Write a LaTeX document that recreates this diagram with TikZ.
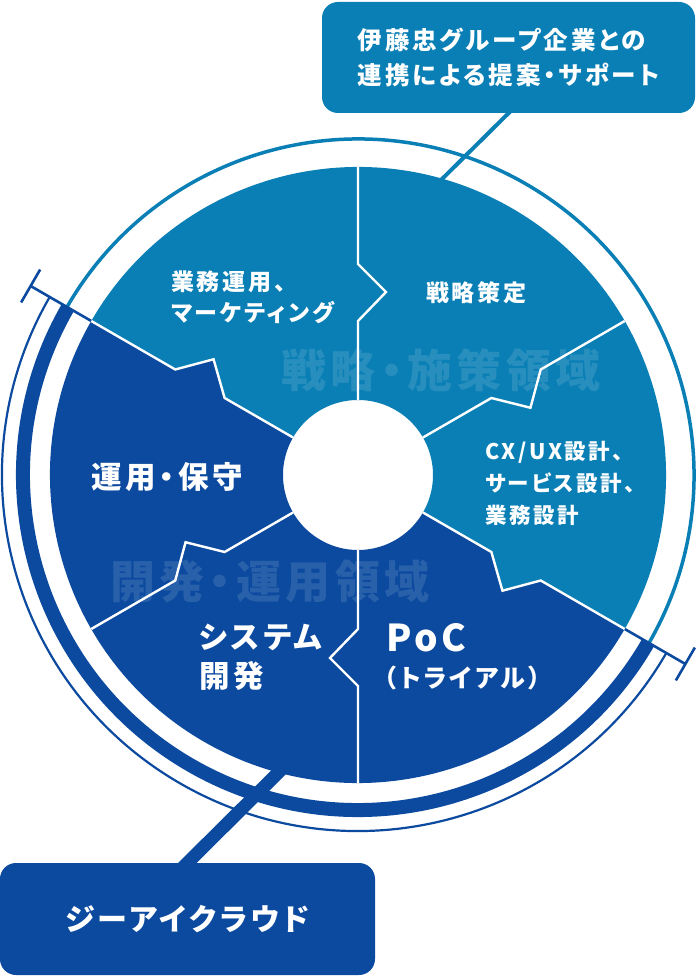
\documentclass[tikz,border=0pt]{standalone}
\usepackage{fontspec}
\newfontfamily\jpfont{Noto Sans CJK JP}[RawFeature=+palt,LetterSpace=12]
\newfontfamily\jptight{Noto Sans CJK JP}[RawFeature=+palt,LetterSpace=10]
\usetikzlibrary{backgrounds}
\definecolor{skyband}{RGB}{10,127,181}
\definecolor{deepblue}{RGB}{12,74,159}
\newcommand\notchout[1]{(#1:75) -- (#1:154) -- (#1-8.7:185.1) -- (#1:211) -- (#1:308)}
\newcommand\notchin[1]{(#1:308) -- (#1:211) -- (#1-8.7:185.1) -- (#1:154) -- (#1:75)}
\begin{document}
\begin{tikzpicture}[x=1pt,y=1pt,
    cut/.style={draw=white,line width=2.4pt},
    lbl/.style={text=white,inner sep=0pt,align=left,font=\jpfont\bfseries},
    callbox/.style={rounded corners=16pt,inner sep=0pt,align=left,text=white},
    wmtext/.style={text=white,text opacity=0.12,inner sep=0pt,
      font=\jptight\bfseries\fontsize{45}{50}\selectfont},
    sizeS/.style={font=\jpfont\bfseries\fontsize{23}{31}\selectfont},
    sizeC/.style={font=\jpfont\bfseries\fontsize{21.5}{32}\selectfont},
    sizeL/.style={font=\jpfont\bfseries\fontsize{30.5}{39}\selectfont}]
   \useasboundingbox (-358,-501) rectangle (340,475);

   \node[callbox,fill=skyband,minimum width=373pt,minimum height=111pt,
     font=\jpfont\bfseries\fontsize{24.5}{35}\selectfont] (topbox) at (150.5,417.5)
     {伊藤忠グループ企業との\\連携による提案・サポート};
   \node[callbox,fill=deepblue,minimum width=375pt,minimum height=112pt,
     font=\jpfont\bfseries\fontsize{30}{34}\selectfont] (cloudbox) at (-170.5,-444)
     {ジーアイクラウド};
   \coordinate (topend) at (78,290);
   \coordinate (cloudend) at (-72,-290);
   \begin{scope}[on background layer]
      \draw[skyband,line width=4pt,shorten <=-6pt] (topbox.south) -- (topend);
      \draw[deepblue,line width=13pt,shorten <=-10pt] (cloudbox.north) -- (cloudend);
   \end{scope}

   \draw[skyband,line width=3.5pt] (-30:336) arc[start angle=-30,end angle=150,radius=336];
   \draw[deepblue,line width=14pt] (150:335) arc[start angle=150,end angle=330,radius=335];
   \draw[deepblue,line width=2.2pt] (150:356) arc[start angle=150,end angle=330,radius=356];
   \foreach \a in {150,-30} {
      \draw[deepblue,line width=2.6pt] (\a:300) -- (\a:378);
      \draw[deepblue,line width=2.6pt] (\a:378) ++(60:19) -- ++(240:38);
   }

   \fill[skyband] \notchout{-30} arc[start angle=-30,end angle=150,radius=308]
      -- \notchin{150} arc[start angle=150,end angle=-30,radius=75] -- cycle;
   \fill[deepblue] \notchout{150} arc[start angle=150,end angle=330,radius=308]
      -- \notchin{330} arc[start angle=330,end angle=150,radius=75] -- cycle;

   \node[wmtext] (wmplan) at (83,105) {戦略・施策領域};
   \node[wmtext] (wmdev) at (-88,-107) {開発・運用領域};

   \foreach \a in {90,30,-30,-90,-150,150}
      \draw[cut] \notchout{\a};

   \node[lbl,sizeS,anchor=west] (sales) at (-187,177.5) {業務運用、\\マーケティング};
   \node[lbl,sizeS,anchor=west] (strategy) at (68,182) {戦略策定};
   \node[lbl,sizeC,anchor=west] (design) at (127,-8) {CX/UX設計、\\サービス設計、\\業務設計};
   \node[lbl,sizeL,anchor=west] (upkeep) at (-267,-2) {運用・保守};
   \node[lbl,sizeL,anchor=west] (devsys) at (-159,-182.5) {システム\\開発};
   \node[lbl,anchor=west,font=\jptight\bfseries\fontsize{37}{40}\selectfont] (poc) at (28,-163) {PoC};
   \node[lbl,anchor=west,font=\jpfont\bfseries\fontsize{25}{28}\selectfont] (trial) at (26,-203) {（トライアル）};
\end{tikzpicture}
\end{document}
